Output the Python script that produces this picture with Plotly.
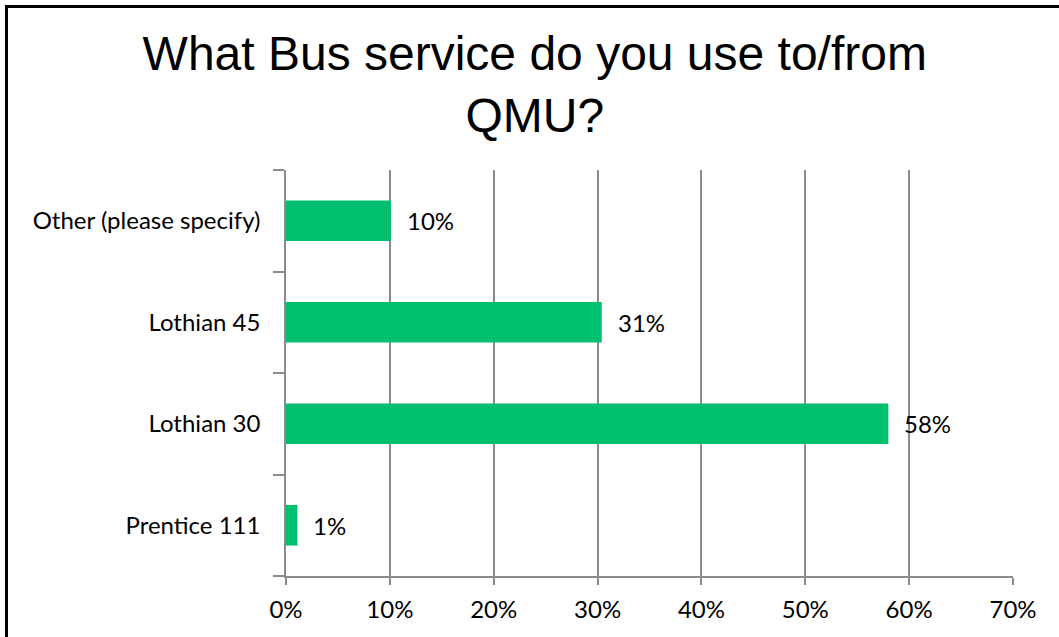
import plotly.graph_objects as go

categories = ["Prentice 111", "Lothian 30", "Lothian 45", "Other (please specify)"]
values = [1.1, 58.0, 30.4, 10.1]
labels = ["1%", "58%", "31%", "10%"]
x_ticks = [0, 10, 20, 30, 40, 50, 60, 70]
x_tick_labels = ["0%", "10%", "20%", "30%", "40%", "50%", "60%", "70%"]

W, H = 1059, 637
L, R, T, B = 286, 46, 170, 61
pw, ph = W - L - R, H - T - B

fig = go.Figure()
fig.add_trace(go.Bar(
    y=categories, x=values, orientation="h",
    marker=dict(color="#00BF6F", line=dict(width=0)),
    hoverinfo="skip",
))
for c, v, t in zip(categories, values, labels):
    fig.add_annotation(x=v, y=c, text=t, showarrow=False, xanchor="left",
                       xshift=14, font=dict(family="Lato", size=24, color="#000000"))

def px_x(p):
    return (p - L) / pw

def px_y(p):
    return 1 - (p - T) / ph

fig.add_shape(type="rect", xref="paper", yref="paper",
              x0=px_x(6.5), x1=px_x(1070), y0=px_y(6.5), y1=px_y(660),
              line=dict(color="#000000", width=3), fillcolor="rgba(0,0,0,0)", layer="above")

fig.update_layout(
    width=W, height=H,
    margin=dict(l=L, r=R, t=T, b=B),
    paper_bgcolor="white", plot_bgcolor="white",
    bargap=0.6,
    showlegend=False,
    title=dict(text="What Bus service do you use to/from<br>QMU?",
               x=0.505, xanchor="center", y=0.89, yanchor="top",
               font=dict(family="Liberation Sans, Arial", size=48, color="#000000")),
    xaxis=dict(range=[0, 70], tickvals=x_ticks, ticktext=x_tick_labels,
               showgrid=True, gridcolor="#8C8C8C", gridwidth=1.5,
               showline=True, linecolor="#8C8C8C", linewidth=1.5,
               ticks="outside", ticklen=7, tickcolor="#8C8C8C", tickwidth=1.5,
               tickfont=dict(family="Lato", size=24, color="#000000"),
               ticklabelstandoff=4,
               zeroline=False, fixedrange=True),
    yaxis=dict(categoryorder="array", categoryarray=categories,
               showline=True, linecolor="#8C8C8C", linewidth=1.5,
               ticks="outside", ticklen=11, tickcolor="#8C8C8C", tickwidth=1.5,
               tickson="boundaries", ticklabelstandoff=19,
               tickfont=dict(family="Lato", size=24, color="#000000"),
               showgrid=False, fixedrange=True),
)

fig.write_html("out.html", config={"displayModeBar": False},
               post_script="document.body.style.margin='0';document.body.style.overflow='hidden';")
